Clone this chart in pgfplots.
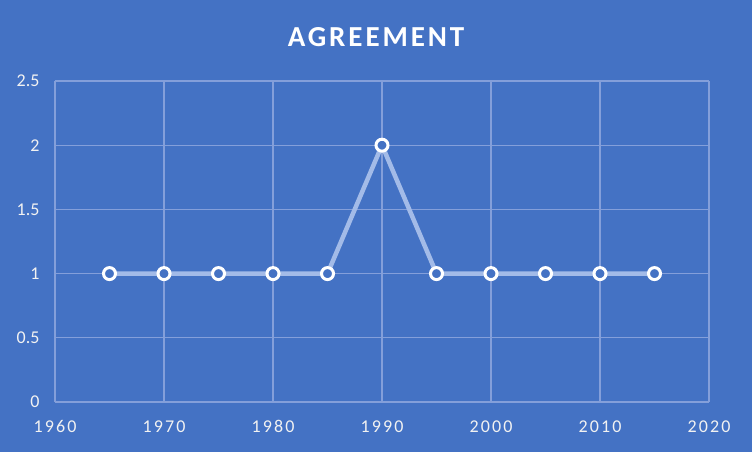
\documentclass[border=0pt]{standalone}
\usepackage{pgfplots}
\pgfplotsset{compat=1.18}
\usepackage{fontspec}
\setmainfont{Carlito}
\newfontfamily\xtickfont[LetterSpace=12]{Carlito}
\newfontfamily\titlefont[LetterSpace=10]{Carlito}
\definecolor{bg}{HTML}{4472C4}
\definecolor{gridc}{HTML}{849FDA}
\definecolor{linec}{HTML}{A3BBE8}
\definecolor{txt}{HTML}{F2F2F2}
\begin{document}
\begin{tikzpicture}[x=1pt,y=1pt]
\fill[bg] (0,0) rectangle (752,452);
\node[text=white,font=\titlefont\bfseries\fontsize{29}{31}\selectfont] at (376,415) {AGREEMENT};
\begin{axis}[
  at={(55pt,50pt)}, anchor=south west,
  width=654pt, height=321pt, scale only axis,
  xmin=1960, xmax=2020, ymin=0, ymax=2.5,
  xtick={1960,1970,...,2020},
  ytick={0,0.5,1,1.5,2,2.5},
  yticklabels={0,0.5,1,1.5,2,2.5},
  xticklabels={1960,1970,1980,1990,2000,2010,2020},
  axis line style={draw=none},
  major tick length=0pt,
  grid=major,
  major grid style={draw=gridc, line width=1.2pt},
  xticklabel style={font=\xtickfont\fontsize{18}{20}\selectfont, text=txt, yshift=-15pt},
  yticklabel style={font=\fontsize{18}{20}\selectfont, text=txt, xshift=-12pt},
  /pgf/number format/assume math mode=true,
  clip=false,
]
\addplot[draw=linec, line width=4.5pt, mark=*, mark size=6pt,
  mark options={draw=white, fill=bg, line width=3pt}]
  coordinates {(1965,1)(1970,1)(1975,1)(1980,1)(1985,1)(1990,2)(1995,1)(2000,1)(2005,1)(2010,1)(2015,1)};
\end{axis}
\end{tikzpicture}
\end{document}
